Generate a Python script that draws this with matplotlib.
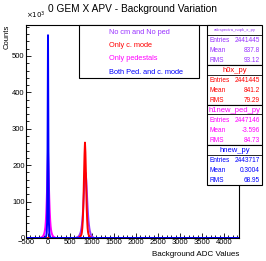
import matplotlib
matplotlib.use('agg')
import matplotlib.pyplot as plt
from matplotlib.patches import Rectangle
from matplotlib.ticker import MultipleLocator

plt.rcParams['font.family'] = ['Liberation Sans', 'DejaVu Sans']

# bin width 10 ADC, counts in thousands (only non-empty bins listed)
BIN = 10
raw_centers = list(range(640, 1050, 10))
raw_counts = [1, 1, 2, 2, 3, 4, 5, 7, 9, 12, 15, 20, 27, 36, 48, 64, 84, 108, 135, 160, 176, 180,
              174, 158, 134, 108, 84, 64, 48, 36, 27, 20, 15, 11, 8, 6, 4, 3, 2, 1, 1]
cm_centers = list(range(700, 990, 10))
cm_counts = [1, 2, 3, 4, 5, 7, 10, 16, 28, 48, 80, 125, 180, 230, 262,
             235, 185, 130, 82, 48, 27, 16, 10, 7, 5, 3, 2, 2, 1]
ped_centers = list(range(-160, 170, 10))
ped_counts = [1, 2, 2, 3, 4, 6, 8, 11, 15, 21, 30, 45, 68, 100, 140, 190, 238,
              195, 145, 105, 72, 48, 32, 22, 15, 11, 8, 6, 4, 3, 2, 2, 1]
both_centers = list(range(-60, 70, 10))
both_counts = [1, 3, 6, 14, 45, 250, 557, 240, 45, 14, 6, 3, 1]

legend_labels = ["No cm and No ped", "Only c. mode", "Only pedestals", "Both Ped. and c. mode"]
colors = ["#9933ff", "#ff0000", "#ff00ff", "#0000ff"]
stat_names = ["adcspectra_nopk_x_py", "h0x_py", "h1new_ped_py", "hnew_py"]
entries = ["2441445", "2441445", "2447146", "2443717"]
means = ["837.8", "841.2", "-3.596", "0.3004"]
rmss = ["93.12", "79.29", "84.73", "68.95"]

series = [(raw_centers, raw_counts), (cm_centers, cm_counts),
          (ped_centers, ped_counts), (both_centers, both_counts)]

W, H = 266, 261
fig = plt.figure(figsize=(W / 100, H / 100), dpi=100)
ax = fig.add_axes([26 / W, 1 - 238 / H, (239 - 26) / W, (238 - 25) / H])

XMIN, XMAX = -500, 4340
for (c, v), col in zip(series, colors):
    x = [XMIN, c[0] - BIN] + list(c) + [c[-1] + BIN, XMAX]
    y = [0, 0] + list(v) + [0, 0]
    ax.plot(x, y, color=col, linewidth=1.4)

ax.set_xlim(XMIN, XMAX)
ax.set_ylim(0, 585)
ax.xaxis.set_major_locator(MultipleLocator(500))
ax.xaxis.set_minor_locator(MultipleLocator(100))
ax.yaxis.set_major_locator(MultipleLocator(100))
ax.yaxis.set_minor_locator(MultipleLocator(20))
ax.tick_params(which='both', direction='in', labelsize=5.5, pad=1, width=0.6)
ax.tick_params(which='major', length=3.5)
ax.tick_params(which='minor', length=2)
ax.set_yticks([0, 100, 200, 300, 400, 500])
ax.set_yticklabels(["0", "100", "200", "300", "400", "500"])
for s in ax.spines.values():
    s.set_linewidth(0.8)

fig.text(133 / W, 1 - 9 / H, "0 GEM X APV - Background Variation", ha='center', va='center', fontsize=7.3)
fig.text(7 / W, 1 - 25 / H, "Counts", ha='center', va='top', rotation=90, fontsize=5.5)
fig.text(26 / W, 1 - 21 / H, r"$\times10^3$", ha='left', va='bottom', fontsize=5)
fig.text(239 / W, 1 - 254 / H, "Background ADC Values", ha='right', va='center', fontsize=5.8)

# legend box
fig.patches.append(Rectangle((79 / W, 1 - 78 / H), (199 - 79) / W, (78 - 25) / H,
                             transform=fig.transFigure, fill=True, facecolor='white',
                             edgecolor='black', linewidth=0.8))
for i, (lab, col) in enumerate(zip(legend_labels, colors)):
    fig.text(109 / W, 1 - (32.3 + i * 13.3) / H, lab, ha='left', va='center', fontsize=5.3, color=col)

# stats boxes
box_top = [25, 65, 105, 145]
for i in range(4):
    top = box_top[i]
    col = colors[i]
    fig.patches.append(Rectangle((207 / W, 1 - (top + 40) / H), (262 - 207) / W, 40 / H,
                                 transform=fig.transFigure, fill=True, facecolor='white',
                                 edgecolor='black', linewidth=0.8))
    fig.lines.append(plt.Line2D([207 / W, 262 / W], [1 - (top + 9.5) / H] * 2,
                                transform=fig.transFigure, color='black', linewidth=0.6))
    fs = 3 if i == 0 else 5.5
    fig.text(234.5 / W, 1 - (top + 5) / H, stat_names[i], ha='center', va='center', fontsize=fs, color=col)
    rows = [("Entries", entries[i]), ("Mean", means[i]), ("RMS", rmss[i])]
    for j, (k, v) in enumerate(rows):
        y = 1 - (top + 15.5 + j * 10) / H
        fig.text(209 / W, y, k, ha='left', va='center', fontsize=4.7, color=col)
        fig.text(260 / W, y, v, ha='right', va='center', fontsize=4.7, color=col)

fig.savefig("out.png", dpi=100)
